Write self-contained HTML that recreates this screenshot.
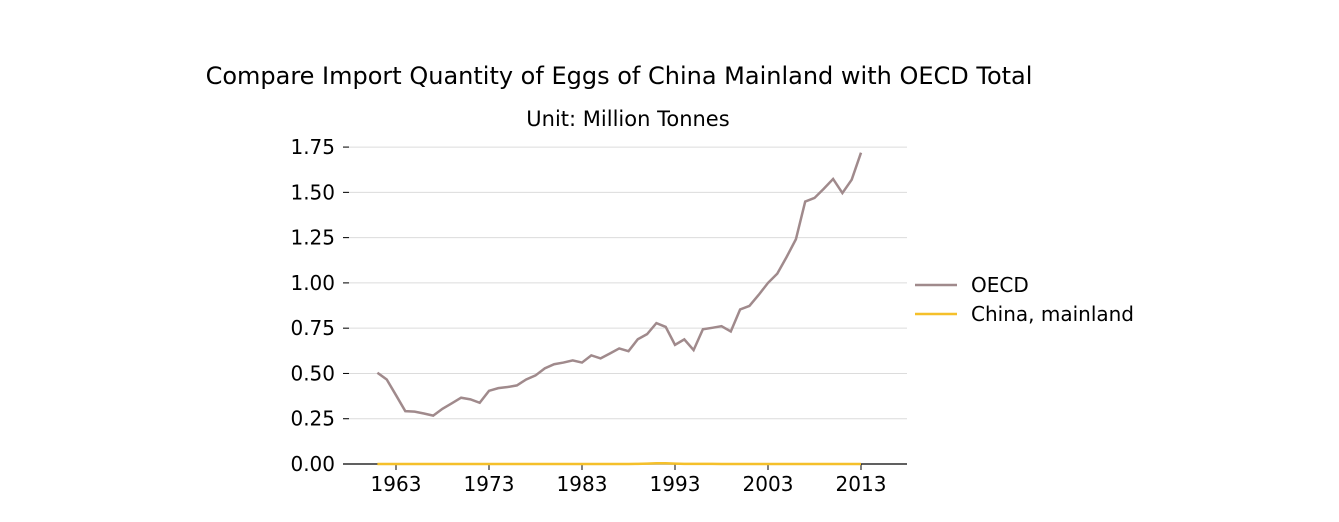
<!DOCTYPE html>
<html><head><meta charset="utf-8"><style>
body{margin:0;background:#fff;font-family:"DejaVu Sans","Liberation Sans",sans-serif;}
svg text{font-family:"DejaVu Sans","Liberation Sans",sans-serif;fill:#000;}
</style></head><body>
<svg id="chart" width="1339" height="518">
<text x="619" y="84" font-size="24" text-anchor="middle">Compare Import Quantity of Eggs of China Mainland with OECD Total</text>
<text x="628" y="126" font-size="21" text-anchor="middle">Unit: Million Tonnes</text>
<g id="grid"></g><g id="axes"></g><g id="series"></g>
<g>
<line x1="915" y1="285" x2="957" y2="285" stroke="#a08a8c" stroke-width="2.5"/>
<text x="971" y="292" font-size="20">OECD</text>
<line x1="915" y1="314" x2="957" y2="314" stroke="#f5c02a" stroke-width="2.5"/>
<text x="971" y="321" font-size="20">China, mainland</text>
</g>
</svg>
<script>
const years=[];for(let y=1961;y<=2013;y++)years.push(y);
const oecd=[0.504,0.467,0.38,0.292,0.289,0.279,0.267,0.305,0.335,0.366,0.357,0.338,0.404,0.419,0.425,0.434,0.467,0.489,0.528,0.551,0.56,0.572,0.56,0.6,0.583,0.61,0.638,0.623,0.689,0.717,0.778,0.757,0.658,0.688,0.629,0.744,0.752,0.761,0.732,0.853,0.873,0.934,1.0,1.051,1.143,1.241,1.449,1.469,1.52,1.574,1.496,1.57,1.719];
const china=[0,0,0,0,0,0,0,0,0,0,0,0,0,0,0,0,0,0,0,0,0,0,0,0,0,0,0,0,0.001,0.002,0.004,0.004,0.002,0.001,0.001,0.001,0.001,0,0,0,0,0,0,0,0,0,0,0,0,0,0,0,0];
const yTicks=[0,0.25,0.5,0.75,1.0,1.25,1.5,1.75];
const xTicks=[1963,1973,1983,1993,2003,2013];
const NS="http://www.w3.org/2000/svg";
const xs=v=>396+(v-1963)*9.3, ys=v=>464-v*181.1;
function mk(t,a,p){const e=document.createElementNS(NS,t);for(const k in a)e.setAttribute(k,a[k]);p.appendChild(e);return e;}
const grid=document.getElementById('grid'),axes=document.getElementById('axes'),ser=document.getElementById('series');
yTicks.forEach(v=>{
 if(v>0){const g=mk('line',{x1:343,x2:907,y1:ys(v),y2:ys(v),stroke:'#dcdcdc','stroke-width':1},grid);
 
 }
 const t=mk('line',{x1:343,x2:349,y1:ys(v),y2:ys(v),stroke:'#000'},axes);
 
 
 const l=mk('text',{x:335,y:ys(v)+7,'font-size':20,'text-anchor':'end'},axes);l.textContent=v.toFixed(2);
 
 
});
const sp=mk('line',{x1:343,x2:907,y1:464,y2:464,stroke:'#000','stroke-width':1.2},axes);


xTicks.forEach(v=>{
 const t=mk('line',{x1:xs(v),x2:xs(v),y1:464,y2:470,stroke:'#000'},axes);
 
 
 const l=mk('text',{x:xs(v),y:491,'font-size':20,'text-anchor':'middle'},axes);l.textContent=v;
 
 
});
function line(d,c,n){const p=mk('polyline',{points:d.map((v,i)=>xs(years[i])+','+ys(v)).join(' '),fill:'none',stroke:c,'stroke-width':2.5},ser);
 
 }
line(china,'#f5c02a','china-line');
line(oecd,'#a08a8c','oecd-line');
</script>
</body></html>
